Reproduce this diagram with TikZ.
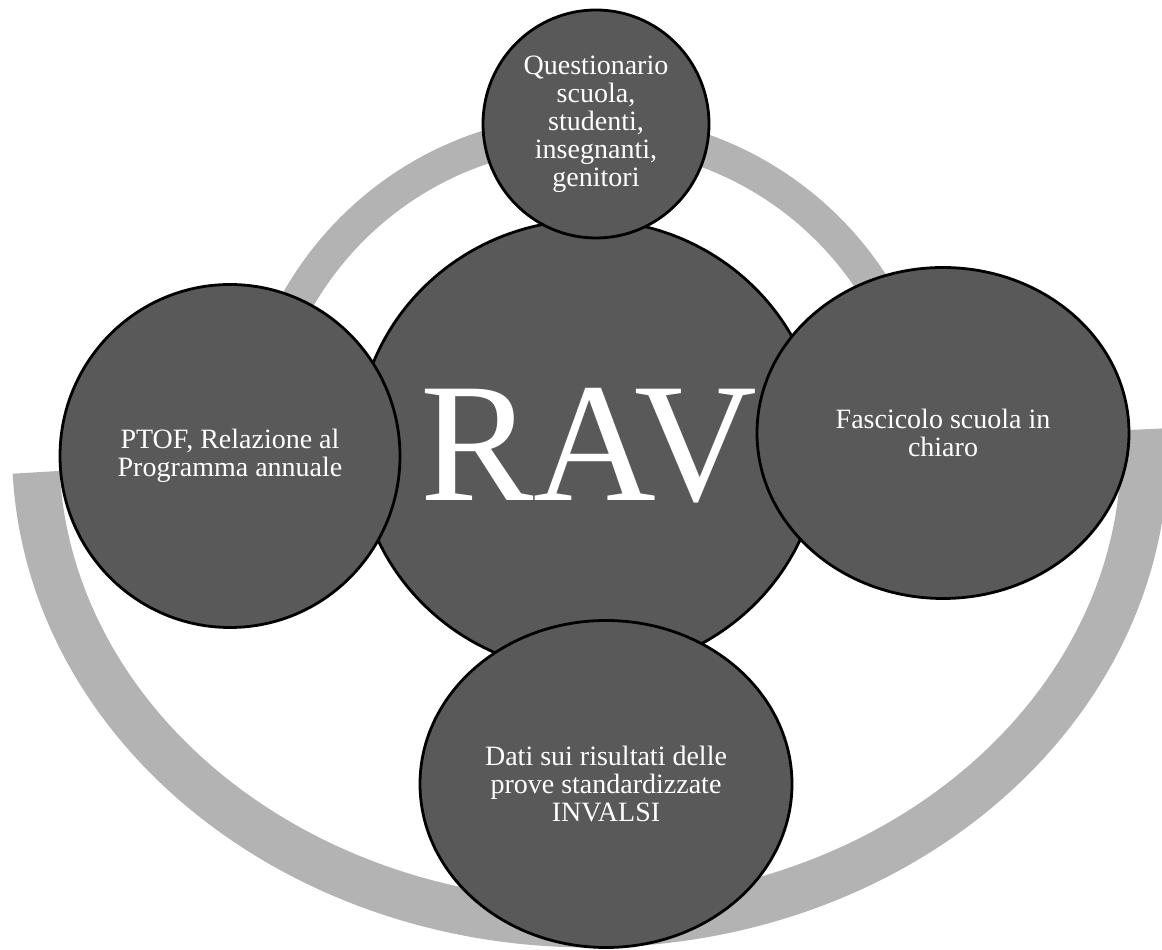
\documentclass[tikz,border=0pt]{standalone}
\usepackage{fontspec}
\setmainfont{Liberation Serif}
\usetikzlibrary{shapes.geometric}
\definecolor{ravdark}{HTML}{595959}
\definecolor{ravring}{HTML}{B3B3B3}
\tikzset{
  disc/.style={ellipse, draw=black, line width=2.8pt, fill=ravdark, text=white, align=center, inner sep=0pt, font=\fontsize{28}{28}\selectfont},
  hub/.style={disc, minimum width=464pt, minimum height=452pt},
  ravtxt/.style={text=white, inner sep=0pt, font=\fontsize{170}{170}\selectfont},
  ring/.style={draw=ravring, line cap=butt},
}
\begin{document}
\begin{tikzpicture}[x=1pt, y=1pt]
  \useasboundingbox (0,0) rectangle (1162,950);
  \clip (0,0) rectangle (1162,950);
  % grey bands behind the discs
  \coordinate (upc) at (590,483);
  \coordinate (lowc) at (590,500);
  \draw[ring, line width=33pt] ([shift={(190:336.5pt)}]upc) arc[start angle=190, end angle=-10, radius=336.5pt];
  \draw[ring, line width=47pt] ([shift={(182.7:554.5pt and 474pt)}]lowc) arc[start angle=182.7, end angle=362.5, x radius=554.5pt, y radius=474pt];
  % hub
  \node[hub, label={[ravtxt]center:RAV}] (rav) at (589,504) {};
  % satellites
  \node[disc, minimum width=226pt, minimum height=228pt] (quest) at (596,826) {Questionario\\scuola,\\studenti,\\insegnanti,\\genitori};
  \node[disc, minimum width=340pt, minimum height=343pt] (ptof) at (230,494) {PTOF, Relazione al\\Programma annuale};
  \node[disc, minimum width=372pt, minimum height=331pt] (fasc) at (943,517) {Fascicolo scuola in\\chiaro};
  \node[disc, minimum width=372pt, minimum height=327pt] (invalsi) at (606,166) {Dati sui risultati delle\\prove standardizzate\\INVALSI};
\end{tikzpicture}
\end{document}
